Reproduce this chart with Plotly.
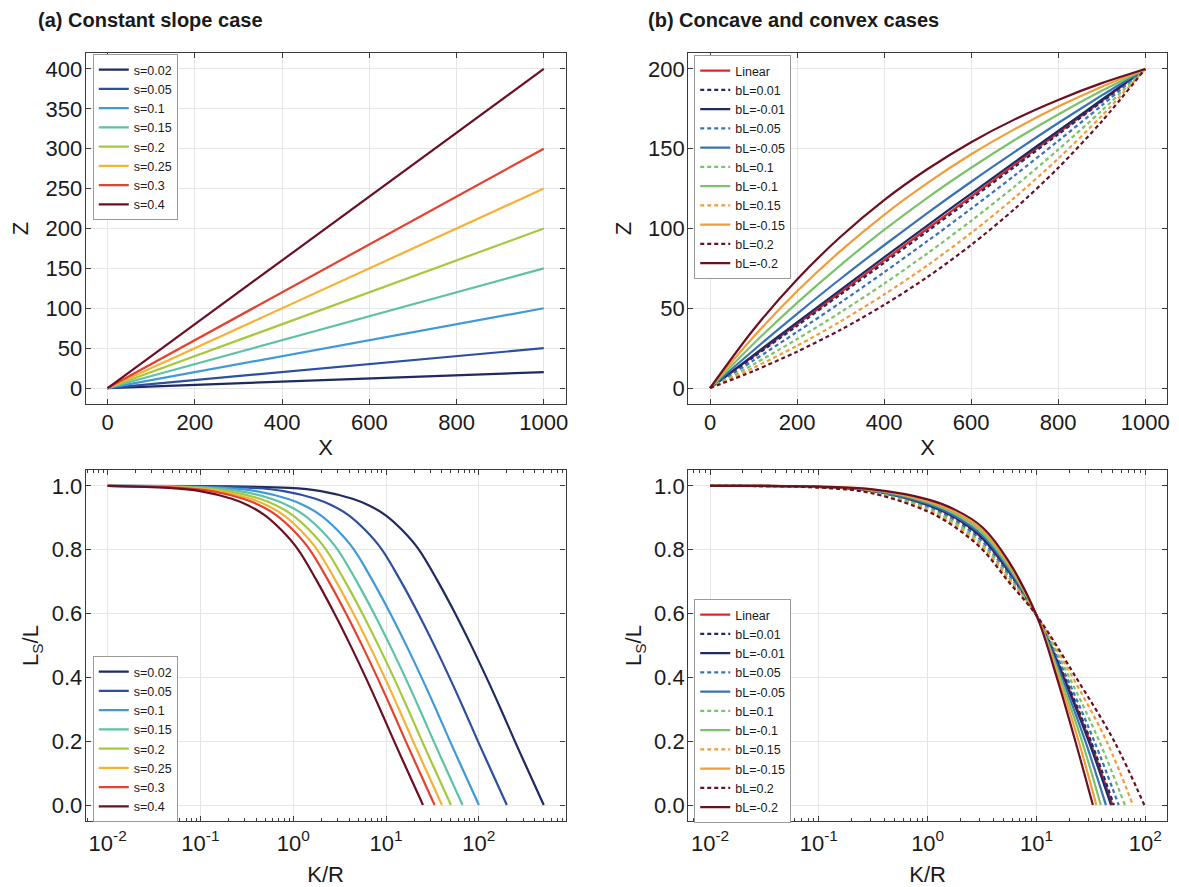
import plotly.graph_objects as go

FONT = "Liberation Sans, Arial, sans-serif"

# ---------------- (a) top: constant slope, Z = s*X ----------------
S_LABELS = ["s=0.02", "s=0.05", "s=0.1", "s=0.15", "s=0.2", "s=0.25", "s=0.3", "s=0.4"]
S_COLORS = ["#1f2a60", "#2e4f9e", "#3f9ad6", "#5ec2a5", "#a7c83c", "#f6b234", "#e6412e", "#6b0f22"]
X_ENDS = [0, 1000]
Z_ENDS = [[0, 20], [0, 50], [0, 100], [0, 150], [0, 200], [0, 250], [0, 300], [0, 400]]

# ---------------- (a) bottom: Ls/L vs K/R ----------------
LS_A = [1.0, 0.994, 0.984, 0.960, 0.939, 0.908, 0.861, 0.800, 0.704, 0.598, 0.498, 0.397, 0.298, 0.198, 0.099, 0.0]
KR_A = [
    [0.01, 0.9, 1.985, 4.345, 6.565, 9.915, 15.0, 22.65, 35.65, 56.1, 83.4, 121.9, 173.85, 245.9, 350.65, 500],
    [0.01, 0.36, 0.794, 1.738, 2.626, 3.966, 6.0, 9.06, 14.26, 22.44, 33.36, 48.76, 69.54, 98.36, 140.26, 200],
    [0.01, 0.18, 0.397, 0.869, 1.313, 1.983, 3.0, 4.53, 7.13, 11.22, 16.68, 24.38, 34.77, 49.18, 70.13, 100],
    [0.01, 0.12, 0.265, 0.579, 0.875, 1.322, 2.0, 3.02, 4.753, 7.48, 11.12, 16.25, 23.18, 32.79, 46.75, 66.67],
    [0.01, 0.09, 0.1985, 0.4345, 0.6565, 0.9915, 1.5, 2.265, 3.565, 5.61, 8.34, 12.19, 17.385, 24.59, 35.065, 50],
    [0.01, 0.072, 0.1588, 0.3476, 0.5252, 0.7932, 1.2, 1.812, 2.852, 4.488, 6.672, 9.752, 13.91, 19.67, 28.05, 40],
    [0.01, 0.06, 0.1323, 0.2897, 0.4377, 0.661, 1.0, 1.51, 2.377, 3.74, 5.56, 8.127, 11.59, 16.39, 23.38, 33.33],
    [0.01, 0.045, 0.0993, 0.2173, 0.3283, 0.4958, 0.75, 1.133, 1.783, 2.805, 4.17, 6.095, 8.693, 12.3, 17.53, 25],
]

# ---------------- (b) top: concave / convex profiles ----------------
B_LABELS = ["Linear", "bL=0.01", "bL=-0.01", "bL=0.05", "bL=-0.05", "bL=0.1", "bL=-0.1",
            "bL=0.15", "bL=-0.15", "bL=0.2", "bL=-0.2"]
B_COLORS = ["#e3242b", "#1f2a60", "#1f2a60", "#3a72b8", "#3a72b8", "#7ac36a", "#7ac36a",
            "#f39c3a", "#f39c3a", "#6b0f22", "#6b0f22"]
B_DASHED = [False, True, False, True, False, True, False, True, False, True, False]
X_B = [0, 100, 200, 300, 400, 500, 600, 700, 800, 900, 1000]
Z_B = [
    [0, 20, 40, 60, 80, 100, 120, 140, 160, 180, 200],
    [0, 19.4, 39.0, 58.7, 78.5, 98.4, 118.5, 138.7, 159.0, 179.4, 200],
    [0, 20.7, 41.2, 61.6, 81.9, 102.0, 121.9, 141.6, 161.2, 180.7, 200],
    [0, 17.3, 35.2, 53.6, 72.6, 92.2, 112.4, 133.3, 154.9, 177.1, 200],
    [0, 23.7, 46.5, 68.5, 89.5, 109.8, 129.3, 148.0, 166.1, 183.4, 200],
    [0, 14.9, 30.7, 47.5, 65.4, 84.5, 104.8, 126.4, 149.4, 173.9, 200],
    [0, 27.8, 53.4, 77.1, 99.1, 119.4, 138.1, 155.5, 171.5, 186.3, 200],
    [0, 12.7, 26.5, 41.8, 58.6, 77.0, 97.2, 119.4, 143.8, 170.6, 200],
    [0, 32.1, 60.7, 86.0, 108.6, 128.6, 146.5, 162.3, 176.4, 188.9, 200],
    [0, 10.7, 22.8, 36.5, 52.1, 69.7, 89.7, 112.3, 138.0, 167.1, 200],
    [0, 36.7, 68.1, 94.8, 117.8, 137.3, 154.1, 168.4, 180.6, 191.1, 200],
]

# ---------------- (b) bottom: Ls/L vs K/R ----------------
KR_B = [
    [0.01, 0.1, 0.3, 1, 1.8, 3.2, 5.6, 10, 17.94, 31.02, 50],
    [0.01, 0.1, 0.3, 1, 1.8, 3.2, 5.6, 10, 18.20, 31.68, 51.5],
    [0.01, 0.1, 0.3, 1, 1.8, 3.2, 5.6, 10, 17.69, 30.17, 48.5],
    [0.01, 0.1, 0.3, 1, 1.8, 3.2, 5.6, 10, 18.98, 33.99, 57.0],
    [0.01, 0.1, 0.3, 1, 1.8, 3.2, 5.6, 10, 17.08, 28.12, 43.5],
    [0.01, 0.1, 0.3, 1, 1.8, 3.2, 5.6, 10, 20.07, 37.77, 65.0],
    [0.01, 0.1, 0.3, 1, 1.8, 3.2, 5.6, 10, 16.49, 26.21, 39.0],
    [0.01, 0.1, 0.3, 1, 1.8, 3.2, 5.6, 10, 21.54, 44.10, 77.0],
    [0.01, 0.1, 0.3, 1, 1.8, 3.2, 5.6, 10, 15.92, 24.43, 35.5],
    [0.01, 0.1, 0.3, 1, 1.8, 3.2, 5.6, 10, 23.10, 51.82, 98.0],
    [0.01, 0.1, 0.3, 1, 1.8, 3.2, 5.6, 10, 15.37, 22.78, 33.0],
]
LS_B = [
    [1.0, 0.997, 0.985, 0.940, 0.900, 0.835, 0.730, 0.595, 0.4, 0.2, 0.0],
    [1.0, 0.997, 0.984, 0.939, 0.898, 0.833, 0.728, 0.595, 0.4, 0.2, 0.0],
    [1.0, 0.997, 0.985, 0.941, 0.901, 0.837, 0.732, 0.595, 0.4, 0.2, 0.0],
    [1.0, 0.996, 0.982, 0.934, 0.891, 0.825, 0.721, 0.595, 0.4, 0.2, 0.0],
    [1.0, 0.997, 0.986, 0.944, 0.905, 0.844, 0.738, 0.595, 0.4, 0.2, 0.0],
    [1.0, 0.996, 0.981, 0.930, 0.884, 0.816, 0.713, 0.595, 0.4, 0.2, 0.0],
    [1.0, 0.997, 0.988, 0.949, 0.912, 0.853, 0.746, 0.595, 0.4, 0.2, 0.0],
    [1.0, 0.995, 0.979, 0.925, 0.877, 0.808, 0.706, 0.595, 0.4, 0.2, 0.0],
    [1.0, 0.998, 0.989, 0.953, 0.918, 0.861, 0.754, 0.595, 0.4, 0.2, 0.0],
    [1.0, 0.995, 0.978, 0.920, 0.870, 0.800, 0.698, 0.595, 0.4, 0.2, 0.0],
    [1.0, 0.998, 0.990, 0.958, 0.925, 0.870, 0.762, 0.595, 0.4, 0.2, 0.0],
]

LOG_TICKVALS = [0.01, 0.1, 1, 10, 100]
LOG_TICKTEXT = ["10<sup>-2</sup>", "10<sup>-1</sup>", "10<sup>0</sup>", "10<sup>1</sup>", "10<sup>2</sup>"]
LOG_MINOR = [m * 10.0 ** k for k in range(-3, 3) for m in range(2, 10)]

# The page body has an 8px margin in the browser: lay out in screen pixels
OFF = 8
W, H = 1179 - OFF, 887 - OFF


def px(x):
    return (x - OFF) / W


def py(y):
    return 1 - (y - OFF) / H


LW = 2.2

fig = go.Figure()

for lab, col, z in zip(S_LABELS, S_COLORS, Z_ENDS):
    fig.add_trace(go.Scatter(x=X_ENDS, y=z, mode="lines", name=lab, xaxis="x", yaxis="y",
                             line=dict(color=col, width=LW), legend="legend"))
for lab, col, d, z in zip(B_LABELS, B_COLORS, B_DASHED, Z_B):
    fig.add_trace(go.Scatter(x=X_B, y=z, mode="lines", name=lab, xaxis="x2", yaxis="y2",
                             line=dict(color=col, width=LW, dash="4px,3px" if d else "solid",
                                       shape="spline", smoothing=0.8), legend="legend2"))
for lab, col, kr in zip(S_LABELS, S_COLORS, KR_A):
    fig.add_trace(go.Scatter(x=kr, y=LS_A, mode="lines", name=lab, xaxis="x3", yaxis="y3",
                             line=dict(color=col, width=LW, shape="spline", smoothing=1.0),
                             legend="legend3"))
for lab, col, d, kr, ls in zip(B_LABELS, B_COLORS, B_DASHED, KR_B, LS_B):
    fig.add_trace(go.Scatter(x=kr, y=ls, mode="lines", name=lab, xaxis="x4", yaxis="y4",
                             line=dict(color=col, width=LW, dash="4px,3px" if d else "solid",
                                       shape="spline", smoothing=1.0), legend="legend4"))

LEFT = [px(86), px(567)]
RIGHT = [px(690), px(1170)]
TOP = [py(404), py(53)]
BOT = [py(821), py(470)]

axis_common = dict(showline=True, linecolor="#3a3a3a", linewidth=1.3, mirror="ticks",
                   ticks="inside", ticklen=5, tickcolor="#3a3a3a", tickwidth=1,
                   showgrid=True, gridcolor="#e6e6e6", gridwidth=1, zeroline=False,
                   tickfont=dict(size=22, color="#1a1a1a", family=FONT),
                   title_font=dict(size=22, color="#1a1a1a", family=FONT))

log_minor = dict(tickvals=LOG_MINOR, ticks="inside", ticklen=3, tickcolor="#3a3a3a", showgrid=False)

fig.update_layout(
    width=W, height=H, margin=dict(l=0, r=0, t=0, b=0),
    paper_bgcolor="white", plot_bgcolor="white",
    font=dict(family=FONT, color="#1a1a1a"),
    xaxis=dict(domain=LEFT, anchor="y", range=[-50, 1050], tickvals=[0, 200, 400, 600, 800, 1000],
               ticklabelstandoff=-2, title=dict(text="X", standoff=6), **axis_common),
    yaxis=dict(domain=TOP, anchor="x", range=[-20, 420], tickvals=[0, 50, 100, 150, 200, 250, 300, 350, 400],
               ticklabelstandoff=-2, title=dict(text="Z", standoff=10), **axis_common),
    xaxis2=dict(domain=RIGHT, anchor="y2", range=[-50, 1050], tickvals=[0, 200, 400, 600, 800, 1000],
                ticklabelstandoff=-2, title=dict(text="X", standoff=6), **axis_common),
    yaxis2=dict(domain=TOP, anchor="x2", range=[-10, 210], tickvals=[0, 50, 100, 150, 200],
                ticklabelstandoff=-2, title=dict(text="Z", standoff=10), **axis_common),
    xaxis3=dict(domain=LEFT, anchor="y3", type="log", range=[-2.235, 2.934],
                tickvals=LOG_TICKVALS, ticktext=LOG_TICKTEXT, minor=log_minor, automargin=False,
                ticklabelstandoff=2, title=dict(text="K/R", standoff=17), **axis_common),
    yaxis3=dict(domain=BOT, anchor="x3", range=[-0.05, 1.05], tickvals=[0, 0.2, 0.4, 0.6, 0.8, 1.0],
                tickformat=".1f", ticklabelstandoff=-2,
                title=dict(text="L<sub>S</sub>/L", standoff=6), **axis_common),
    xaxis4=dict(domain=RIGHT, anchor="y4", type="log", range=[-2.2, 2.2],
                tickvals=LOG_TICKVALS, ticktext=LOG_TICKTEXT, minor=log_minor, automargin=False,
                ticklabelstandoff=2, title=dict(text="K/R", standoff=17), **axis_common),
    yaxis4=dict(domain=BOT, anchor="x4", range=[-0.05, 1.05], tickvals=[0, 0.2, 0.4, 0.6, 0.8, 1.0],
                tickformat=".1f", ticklabelstandoff=-2,
                title=dict(text="L<sub>S</sub>/L", standoff=6), **axis_common),
)

leg_common = dict(xanchor="left", yanchor="top", bgcolor="white", bordercolor="#9a9a9a",
                  borderwidth=1, font=dict(size=12.5, family=FONT, color="#1a1a1a"),
                  tracegroupgap=0, itemwidth=30)
fig.update_layout(
    legend=dict(x=px(93), y=py(54), **leg_common),
    legend2=dict(x=px(696), y=py(55), **leg_common),
    legend3=dict(x=px(93), y=py(656), **leg_common),
    legend4=dict(x=px(696), y=py(599), **leg_common),
)

fig.add_annotation(text="<b>(a) Constant slope case</b>", x=px(36), y=py(20), xref="paper", yref="paper",
                   xanchor="left", yanchor="middle", showarrow=False,
                   font=dict(size=20, family=FONT, color="#1a1a1a"))
fig.add_annotation(text="<b>(b) Concave and convex cases</b>", x=px(648), y=py(20), xref="paper", yref="paper",
                   xanchor="left", yanchor="middle", showarrow=False,
                   font=dict(size=20, family=FONT, color="#1a1a1a"))

fig.write_html("out.html")
